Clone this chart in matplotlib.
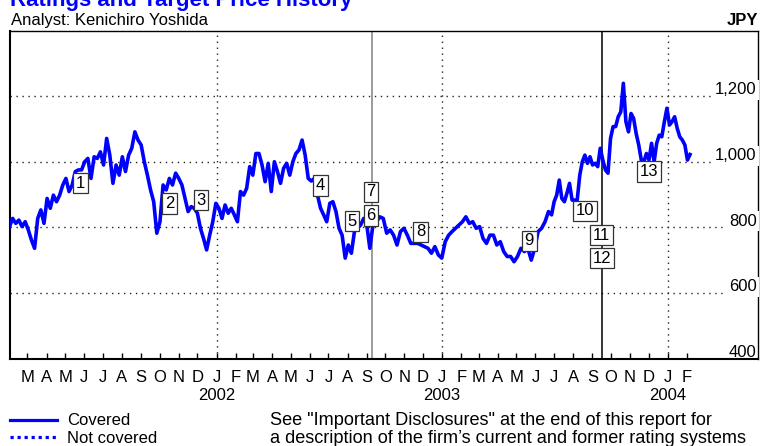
import matplotlib
matplotlib.use('Agg')
import matplotlib.pyplot as plt
import matplotlib.dates as mdates
import matplotlib.transforms as mtransforms
from matplotlib.lines import Line2D
import pandas as pd

plt.rcParams['font.family'] = ['Liberation Sans', 'DejaVu Sans']

BLUE = '#0000ff'

seg_spans = [('2001-01-31', '2001-11-11'), ('2001-11-16', '2002-09-06'),
             ('2002-09-11', '2003-06-22'), ('2003-06-27', '2004-02-06')]

price_a = [802, 827, 812, 822, 802, 817, 792, 761, 736, 827, 853, 812, 888, 858,
           898, 878, 898, 929, 949, 909, 929, 970, 975, 975, 1000, 1010, 949, 1015,
           1010, 1030, 990, 1071, 1020, 934, 990, 959, 1015, 970, 1020, 1041, 1091,
           1066, 1051, 1000, 959, 914, 878, 782, 817, 929, 914, 949, 929, 965, 949,
           929, 888]
price_b = [848, 863, 858, 843, 797, 766, 731, 776, 817, 873, 858, 827, 868, 843,
           858, 838, 817, 909, 898, 919, 985, 959, 1025, 1025, 990, 939, 995, 909,
           1000, 970, 934, 980, 995, 959, 1000, 1025, 1036, 1066, 1020, 949, 941,
           949, 898, 858, 838, 817, 873, 878, 848, 797, 776, 706, 746, 721, 787,
           797, 807, 827, 807, 736]
price_c = [807, 817, 832, 827, 782, 792, 776, 746, 787, 797, 776, 751, 751, 751,
           746, 741, 736, 721, 741, 716, 706, 756, 776, 787, 797, 807, 817, 832,
           812, 817, 797, 802, 766, 751, 776, 776, 746, 756, 726, 711, 711, 695,
           711, 736, 726, 736, 700, 736, 787, 797, 817, 848]
price_d = [838, 878, 898, 944, 888, 878, 904, 934, 883, 883, 883, 959, 1000, 1020,
           995, 1015, 990, 995, 985, 1041, 1005, 975, 965, 1071, 1107, 1107, 1137,
           1152, 1239, 1122, 1091, 1147, 1132, 1086, 1051, 1005, 1000, 1025, 1005,
           1056, 1000, 1056, 1081, 1076, 1122, 1163, 1112, 1122, 1137, 1102, 1076,
           1066, 1051, 1005, 1022]

# rating / target price change markers
rating_nums = ['1', '2', '3', '4', '5', '6', '7', '8', '9', '10', '11', '12', '13']
rating_dates = ['2001-05-26', '2001-10-17', '2001-12-07', '2002-06-18', '2002-08-08',
                '2002-09-08', '2002-09-08', '2002-11-27', '2003-05-22', '2003-08-20',
                '2003-09-16', '2003-09-16', '2003-12-01']
rating_levels = [935, 873, 883, 927, 819, 836, 908, 786, 759, 850, 776, 706, 970]

coverage_dates = ['2002-09-09', '2003-09-16']
coverage_colors = ['#808080', '#000000']

grid_values = [600, 800, 1000, 1200]
ytick_values = [400, 600, 800, 1000, 1200]
year_labels = ['2002', '2003', '2004']

dates = []
prices = []
for (start, end), seg in zip(seg_spans, [price_a, price_b, price_c, price_d]):
    dates.extend(pd.date_range(start, end, periods=len(seg)))
    prices.extend(seg)

fig = plt.figure(figsize=(7.6, 4.46), dpi=100)
ax = fig.add_axes([9.5 / 760, 1 - 358.5 / 446, 748.5 / 760, 328 / 446])

ax.set_xlim(pd.Timestamp('2001-01-31'), pd.Timestamp('2004-05-26'))
ax.set_ylim(400, 1400)

dot = (0, (1, 3.3))
for v in grid_values:
    ax.axhline(v, color='#222222', lw=1.0, ls=dot, zorder=1)
for y in year_labels:
    ax.axvline(pd.Timestamp(y + '-01-01'), color='#222222', lw=1.0, ls=dot, zorder=1)

for d, c in zip(coverage_dates, coverage_colors):
    ax.axvline(pd.Timestamp(d), color=c, lw=1.1, zorder=2)

ax.plot(dates, prices, color=BLUE, lw=2.6, solid_joinstyle='round', zorder=3)

for n, d, v in zip(rating_nums, rating_dates, rating_levels):
    ax.text(pd.Timestamp(d), v, n, ha='center', va='center', fontsize=12, zorder=5,
            bbox=dict(boxstyle='square,pad=0.16', fc='white', ec='#333333', lw=0.9))

# y labels sit inside the plot on the right
trans = mtransforms.offset_copy(ax.get_yaxis_transform(), fig=fig, x=0, y=1.2, units='points')
for v in ytick_values:
    kw = {}
    if v in grid_values:
        kw['bbox'] = dict(boxstyle='square,pad=0.15', fc='white', ec='none')
    ax.text(0.998, v, f'{v:,}', transform=trans, ha='right', va='baseline',
            fontsize=12, zorder=4, **kw)
ax.set_yticks([])

months = pd.date_range('2001-03-01', '2004-02-01', freq='MS')
ax.set_xticks(months)
ax.set_xticklabels([m.strftime('%B')[0] for m in months])
ax.tick_params(axis='x', direction='in', length=4.5, width=1, pad=8.3, labelsize=12)

for y in year_labels:
    ax.text(pd.Timestamp(y + '-01-01'), -41.5 / 328, y, transform=ax.get_xaxis_transform(),
            ha='center', va='baseline', fontsize=12)

for s in ax.spines.values():
    s.set_linewidth(1.0)
ax.spines['left'].set_linewidth(1.5)
ax.spines['bottom'].set_linewidth(1.5)

fig.text(10 / 760, 1 - 6 / 446, 'Ratings and Target Price History', color=BLUE,
         fontsize=16, fontweight='bold', va='baseline')
fig.text(11 / 760, 1 - 25 / 446, 'Analyst: Kenichiro Yoshida', fontsize=12, va='baseline')
fig.text(758 / 760, 1 - 25 / 446, 'JPY', fontsize=12, fontweight='bold',
         ha='right', va='baseline')

# legend
fig.add_artist(Line2D([10 / 760, 57 / 760], [1 - 420 / 446] * 2, color=BLUE, lw=2.3))
fig.add_artist(Line2D([10 / 760, 57 / 760], [1 - 437 / 446] * 2, color=BLUE, lw=2.3,
                      ls=(0, (1, 1.2))))
fig.text(67 / 760, 1 - 425 / 446, 'Covered', fontsize=12, va='baseline')
fig.text(67 / 760, 1 - 443 / 446, 'Not covered', fontsize=12, va='baseline')

fig.text(270 / 760, 1 - 425 / 446,
         'See "Important Disclosures" at the end of this report for', fontsize=13.1,
         va='baseline')
fig.text(270 / 760, 1 - 443 / 446,
         'a description of the firm\u2019s current and former rating systems', fontsize=13.1,
         va='baseline')

fig.savefig('out.png', dpi=100)
